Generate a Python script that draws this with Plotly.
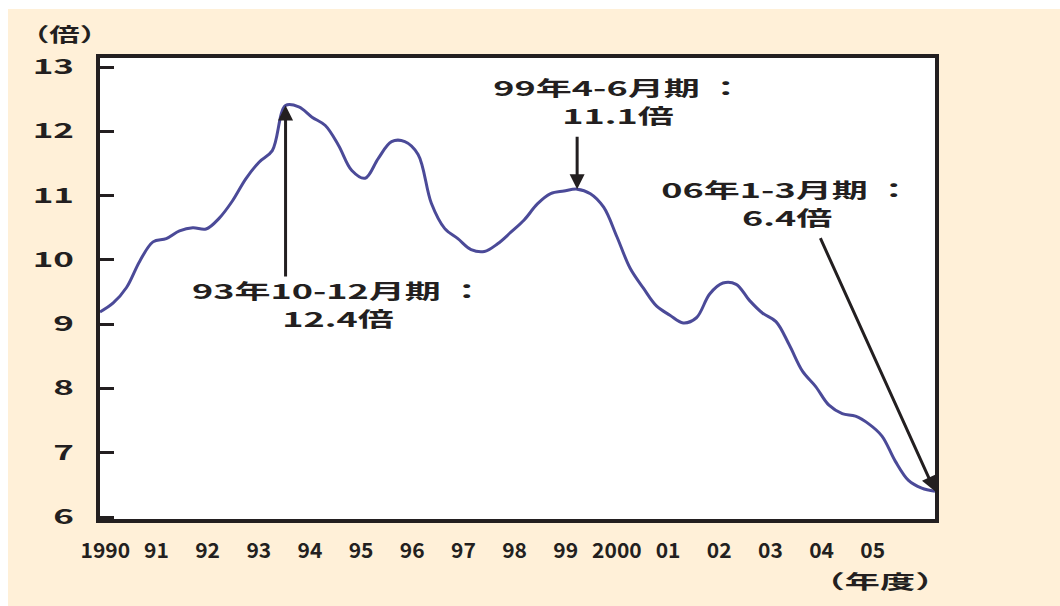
import json
import plotly.graph_objects as go

# Quarterly series, fiscal 1990 Q1 (Apr-Jun 1990) through fiscal 2005 Q4 (Jan-Mar 2006)
quarter_index = list(range(64))
ratio = [
    9.19, 9.33, 9.57, 9.98, 10.28, 10.33, 10.45, 10.50,
    10.48, 10.65, 10.92, 11.26, 11.52, 11.70, 12.40, 12.38,
    12.22, 12.09, 11.78, 11.39, 11.27, 11.58, 11.84, 11.84,
    11.64, 10.88, 10.49, 10.33, 10.16, 10.13, 10.25, 10.43,
    10.62, 10.87, 11.03, 11.07, 11.10, 11.03, 10.82, 10.36,
    9.87, 9.56, 9.28, 9.14, 9.02, 9.10, 9.47, 9.64,
    9.62, 9.37, 9.17, 9.04, 8.68, 8.27, 8.03, 7.74,
    7.61, 7.57, 7.45, 7.26, 6.87, 6.57, 6.45, 6.40,
]

year_labels = ["1990", "91", "92", "93", "94", "95", "96", "97", "98", "99",
               "2000", "01", "02", "03", "04", "05"]
y_ticks = [6, 7, 8, 9, 10, 11, 12, 13]

# Highlighted quarters: index, value, period text, value text
callout_index = [14, 36, 63]
callout_value = [12.4, 11.1, 6.4]
callout_period = ["93年10-12月期 ：", "99年4-6月期 ：", "06年1-3月期 ："]
callout_label = ["12.4倍", "11.1倍", "6.4倍"]

INK = "#231F20"
CREAM = "#FFF0D8"
FONT = "Noto Sans CJK JP"

fig = go.Figure()
fig.add_trace(go.Scatter(
    x=quarter_index, y=ratio, mode="lines",
    line=dict(color="#4B4A98", width=3, shape="spline", smoothing=1.0),
    hoverinfo="skip", showlegend=False,
))

# tick labels sit slightly tighter than one year per label
label_pos = [0.4 + 3.86 * i for i in range(len(year_labels))]

fig.update_layout(
    width=1060, height=606,
    margin=dict(l=100, r=125, t=58, b=87),
    paper_bgcolor=CREAM, plot_bgcolor="white",
    font=dict(family=FONT, color=INK),
    xaxis=dict(
        range=[0, 63], showgrid=False, zeroline=False,
        showline=True, mirror=True, linecolor=INK, linewidth=4,
        tickmode="array", tickvals=label_pos, ticktext=year_labels,
        ticks="", tickfont=dict(size=21, family=FONT, color=INK, weight="bold"),
        ticklabelstandoff=10,
    ),
    yaxis=dict(
        range=[5.97, 13.14], showgrid=False, zeroline=False,
        showline=True, mirror=True, linecolor=INK, linewidth=4,
        tickmode="array", tickvals=y_ticks,
        ticks="inside", ticklen=14, tickwidth=3, tickcolor=INK,
        tickfont=dict(size=20, family=FONT, color=INK, weight="bold"),
        ticklabelstandoff=18,
    ),
    shapes=[
        # white strips along the top and left edges of the page
        dict(type="rect", xref="paper", yref="paper", x0=-0.2, x1=1.2,
             y0=(519 - 9) / 461, y1=1.2, fillcolor="white", line_width=0, layer="below"),
        dict(type="rect", xref="paper", yref="paper", x0=-0.2, x1=-92 / 835,
             y0=-0.3, y1=1.2, fillcolor="white", line_width=0, layer="below"),
    ],
)

# horizontal stretch applied to each annotation's text, in order of creation
stretch = []

# unit labels
fig.add_annotation(text="（倍）", xref="paper", yref="paper", x=-0.043, y=1.054,
                   xanchor="center", yanchor="middle",
                   showarrow=False, font=dict(size=19, weight="bold"))
stretch.append(1.6)
fig.add_annotation(text="（年度）", xref="paper", yref="paper", x=0.934, y=-0.134,
                   xanchor="center", yanchor="middle",
                   showarrow=False, font=dict(size=19, weight="bold"))
stretch.append(1.85)

# callout text centres and arrow tails (in axis units)
text_pos = [(17.96, 9.30), (39.1, 12.47), (51.8, 10.87)]
tail_pos = [(14, 9.72), (36, 11.94), (54.3, 10.36)]

for qi, val, period, label, (tx, ty), (ax, ay) in zip(
        callout_index, callout_value, callout_period, callout_label, text_pos, tail_pos):
    fig.add_annotation(
        x=qi, y=val, ax=ax, ay=ay, xref="x", yref="y", axref="x", ayref="y",
        text="", showarrow=True, arrowhead=2, arrowsize=1, arrowwidth=3,
        arrowcolor=INK, standoff=0,
    )
    stretch.append(1.0)
    for txt, shift in ((period, 14), (label, -14)):
        fig.add_annotation(
            x=tx, y=ty, xref="x", yref="y", text=txt, showarrow=False,
            yshift=shift, font=dict(size=20, weight="bold", color=INK),
        )
        stretch.append(1.8)

# widen the lettering horizontally (wide-set gothic type)
post = """
var gd = document.getElementById('{plot_id}');
var k = %s;
function widen(el, f) {
  if (f === 1) return;
  var lines = el.querySelectorAll('tspan.line');
  var targets = lines.length ? Array.prototype.slice.call(lines) : [el];
  targets.forEach(function (t) {
    var w = t.getComputedTextLength();
    if (w > 0) {
      t.setAttribute('lengthAdjust', 'spacingAndGlyphs');
      t.setAttribute('textLength', (w * f).toFixed(1));
    }
  });
}
gd.querySelectorAll('.ytick text').forEach(function (el) { widen(el, 1.75); });
gd.querySelectorAll('g.annotation').forEach(function (g) {
  var i = +g.getAttribute('data-index');
  var t = g.querySelector('text.annotation-text');
  if (t && k[i] !== undefined) widen(t, k[i]);
});
""" % json.dumps(stretch)

fig.write_html("out.html", post_script=post)
